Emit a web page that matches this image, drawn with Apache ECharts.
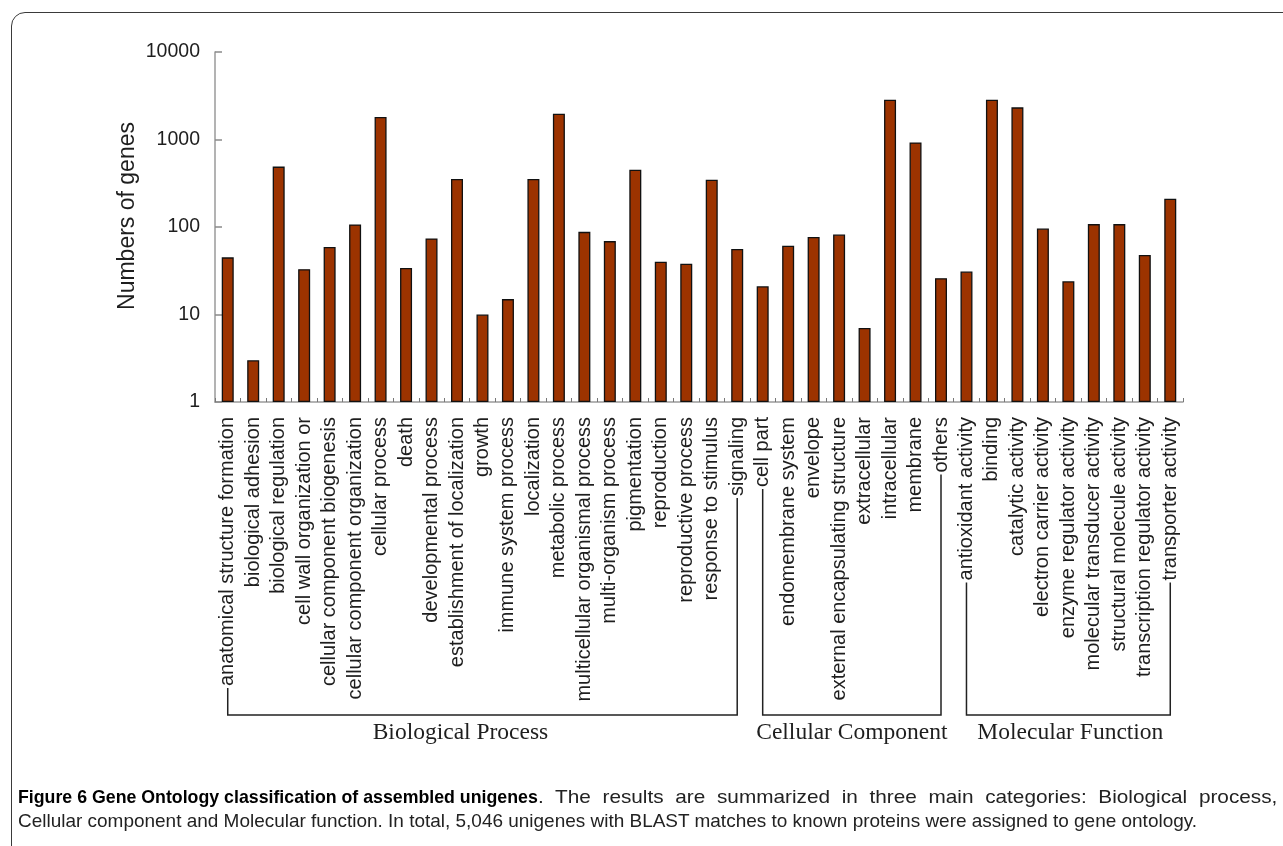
<!DOCTYPE html>
<html>
<head>
<meta charset="utf-8">
<script src="https://cdn.jsdelivr.net/npm/echarts@6/dist/echarts.min.js"></script>
<style>
  html, body { margin: 0; padding: 0; background: #fff; width: 1283px; height: 846px; overflow: hidden; }
  #frame { position: absolute; left: 11px; top: 12px; width: 1330px; height: 900px; border: 1px solid #3a3a3a; border-radius: 14px; box-sizing: border-box; }
  #chart { position: absolute; left: 0; top: 0; width: 1283px; height: 846px; }
  .cap { position: absolute; white-space: nowrap; font-family: "Liberation Sans Narrow", "Liberation Sans", Arial, sans-serif; font-size: 18.5px; line-height: 22px; color: #222; transform-origin: 0 0; }
  .cap.bold { font-weight: bold; color: #000; }
</style>
</head>
<body>
<div id="frame"></div>
<div id="chart"></div>
<div class="cap bold" id="capTitle" style="top:786px">Figure 6 Gene Ontology classification of assembled unigenes</div>
<div class="cap" id="capRest" style="top:786px">. The results are summarized in three main categories: Biological process,</div>
<div class="cap" id="capLast" style="top:810px">Cellular component and Molecular function. In total, 5,046 unigenes with BLAST matches to known proteins were assigned to gene ontology.</div>
<script>
// GO terms per main category
const bpTerms = [
  'anatomical structure formation', 'biological adhesion', 'biological regulation',
  'cell wall organization or', 'cellular component biogenesis', 'cellular component organization',
  'cellular process', 'death', 'developmental process', 'establishment of localization',
  'growth', 'immune system process', 'localization', 'metabolic process',
  'multicellular organismal process', 'multi-organism process', 'pigmentation',
  'reproduction', 'reproductive process', 'response to stimulus', 'signaling'
];
const ccTerms = [
  'cell part', 'endomembrane system', 'envelope', 'external encapsulating structure',
  'extracellular', 'intracellular', 'membrane', 'others'
];
const mfTerms = [
  'antioxidant activity', 'binding', 'catalytic activity', 'electron carrier activity',
  'enzyme regulator activity', 'molecular transducer activity', 'structural molecule activity',
  'transcription regulator activity', 'transporter activity'
];

// Numbers of genes per term
const bpCounts = [45, 3, 490, 33, 59, 107, 1810, 34, 74, 354, 10, 15, 354, 1970, 88, 69, 452, 40, 38, 347, 56];
const ccCounts = [21, 61, 77, 82, 7, 2850, 927, 26];
const mfCounts = [31, 2850, 2330, 96, 24, 108, 108, 48, 211];

const groupNames = ['Biological Process', 'Cellular Component', 'Molecular Function'];
const yTicks = [1, 10, 100, 1000, 10000];
const yName = 'Numbers of genes';

const categories = bpTerms.concat(ccTerms, mfTerms);
const counts = bpCounts.concat(ccCounts, mfCounts);
const groups = [bpTerms, ccTerms, mfTerms];

const LABEL_FONT = 20;
const LABEL_FAMILY = '"Liberation Sans", Arial, sans-serif';
const LABEL_MARGIN = 15;

const chart = echarts.init(document.getElementById('chart'), null, { renderer: 'canvas' });

chart.setOption({
  animation: false,
  backgroundColor: 'transparent',
  grid: { left: 215, right: 100, top: 52, bottom: 444, containLabel: false },
  xAxis: {
    type: 'category',
    data: categories,
    boundaryGap: true,
    axisLine: { lineStyle: { color: '#9a9a9a', width: 1.5 } },
    axisTick: { show: true, inside: true, length: 4, lineStyle: { color: '#777', width: 1 } },
    axisLabel: {
      interval: 0, rotate: 90, margin: LABEL_MARGIN,
      fontSize: LABEL_FONT, fontFamily: LABEL_FAMILY, color: '#1e1e1e'
    },
    splitLine: { show: false }
  },
  yAxis: {
    type: 'log',
    logBase: 10,
    min: yTicks[0],
    max: yTicks[yTicks.length - 1],
    axisLine: { show: true, lineStyle: { color: '#9a9a9a', width: 1.5 } },
    axisTick: { show: true, inside: true, length: 7, lineStyle: { color: '#8a8a8a', width: 1.5 } },
    minorTick: { show: false },
    axisLabel: {
      margin: 15, fontSize: 19.5, fontFamily: LABEL_FAMILY, color: '#1e1e1e',
      formatter: v => String(Math.round(v))
    },
    splitLine: { show: false }
  },
  series: [{
    type: 'bar',
    data: counts,
    barWidth: 12,
    itemStyle: { color: '#9c3300', borderColor: '#111', borderWidth: 1.3 }
  }]
});

// Brackets grouping the terms under each main category
const measure = document.createElement('canvas').getContext('2d');
measure.font = LABEL_FONT + 'px ' + LABEL_FAMILY;
const axisY = chart.convertToPixel({ yAxisIndex: 0 }, yTicks[0]);
const bracketY = 715;
const titleY = 733;
const titleShift = [-22, 0, 2];

const graphics = [{
  type: 'text',
  x: 128,
  y: 216,
  rotation: Math.PI / 2,
  style: {
    text: yName,
    font: '23px ' + LABEL_FAMILY,
    fill: '#1e1e1e',
    align: 'center',
    verticalAlign: 'middle'
  }
}];
let start = 0;
groups.forEach((terms, g) => {
  const first = start, last = start + terms.length - 1;
  const x0 = chart.convertToPixel({ xAxisIndex: 0 }, first);
  const x1 = chart.convertToPixel({ xAxisIndex: 0 }, last);
  const y0 = axisY + LABEL_MARGIN + measure.measureText(categories[first]).width + 2;
  const y1 = axisY + LABEL_MARGIN + measure.measureText(categories[last]).width + 2;
  graphics.push({
    type: 'polyline',
    shape: { points: [[x0, y0], [x0, bracketY], [x1, bracketY], [x1, y1]] },
    style: { stroke: '#222', lineWidth: 1.5, fill: null }
  });
  graphics.push({
    type: 'text',
    x: (x0 + x1) / 2 + titleShift[g],
    y: titleY,
    style: {
      text: groupNames[g],
      font: '23.5px "Liberation Serif", "Times New Roman", serif',
      fill: '#1e1e1e',
      align: 'center',
      verticalAlign: 'middle'
    }
  });
  start = last + 1;
});
chart.setOption({ graphic: graphics });

// Condensed caption: each run fitted to its span, first line justified
const capTitle = document.getElementById('capTitle');
const capRest = document.getElementById('capRest');
const capLast = document.getElementById('capLast');
const scale = 1179 / capLast.scrollWidth;
capLast.style.left = '18px';
capLast.style.transform = 'scaleX(' + scale + ')';
capTitle.style.left = '18px';
capTitle.style.transform = 'scaleX(' + (520 / capTitle.scrollWidth) + ')';
// split the remaining slack between glyph width and word spacing
const spaces = (capRest.textContent.match(/ /g) || []).length;
const restScale = (scale + 739 / capRest.scrollWidth) / 2;
capRest.style.wordSpacing = ((739 / restScale - capRest.scrollWidth) / spaces) + 'px';
capRest.style.left = '538px';
capRest.style.transform = 'scaleX(' + restScale + ')';
</script>
</body>
</html>
